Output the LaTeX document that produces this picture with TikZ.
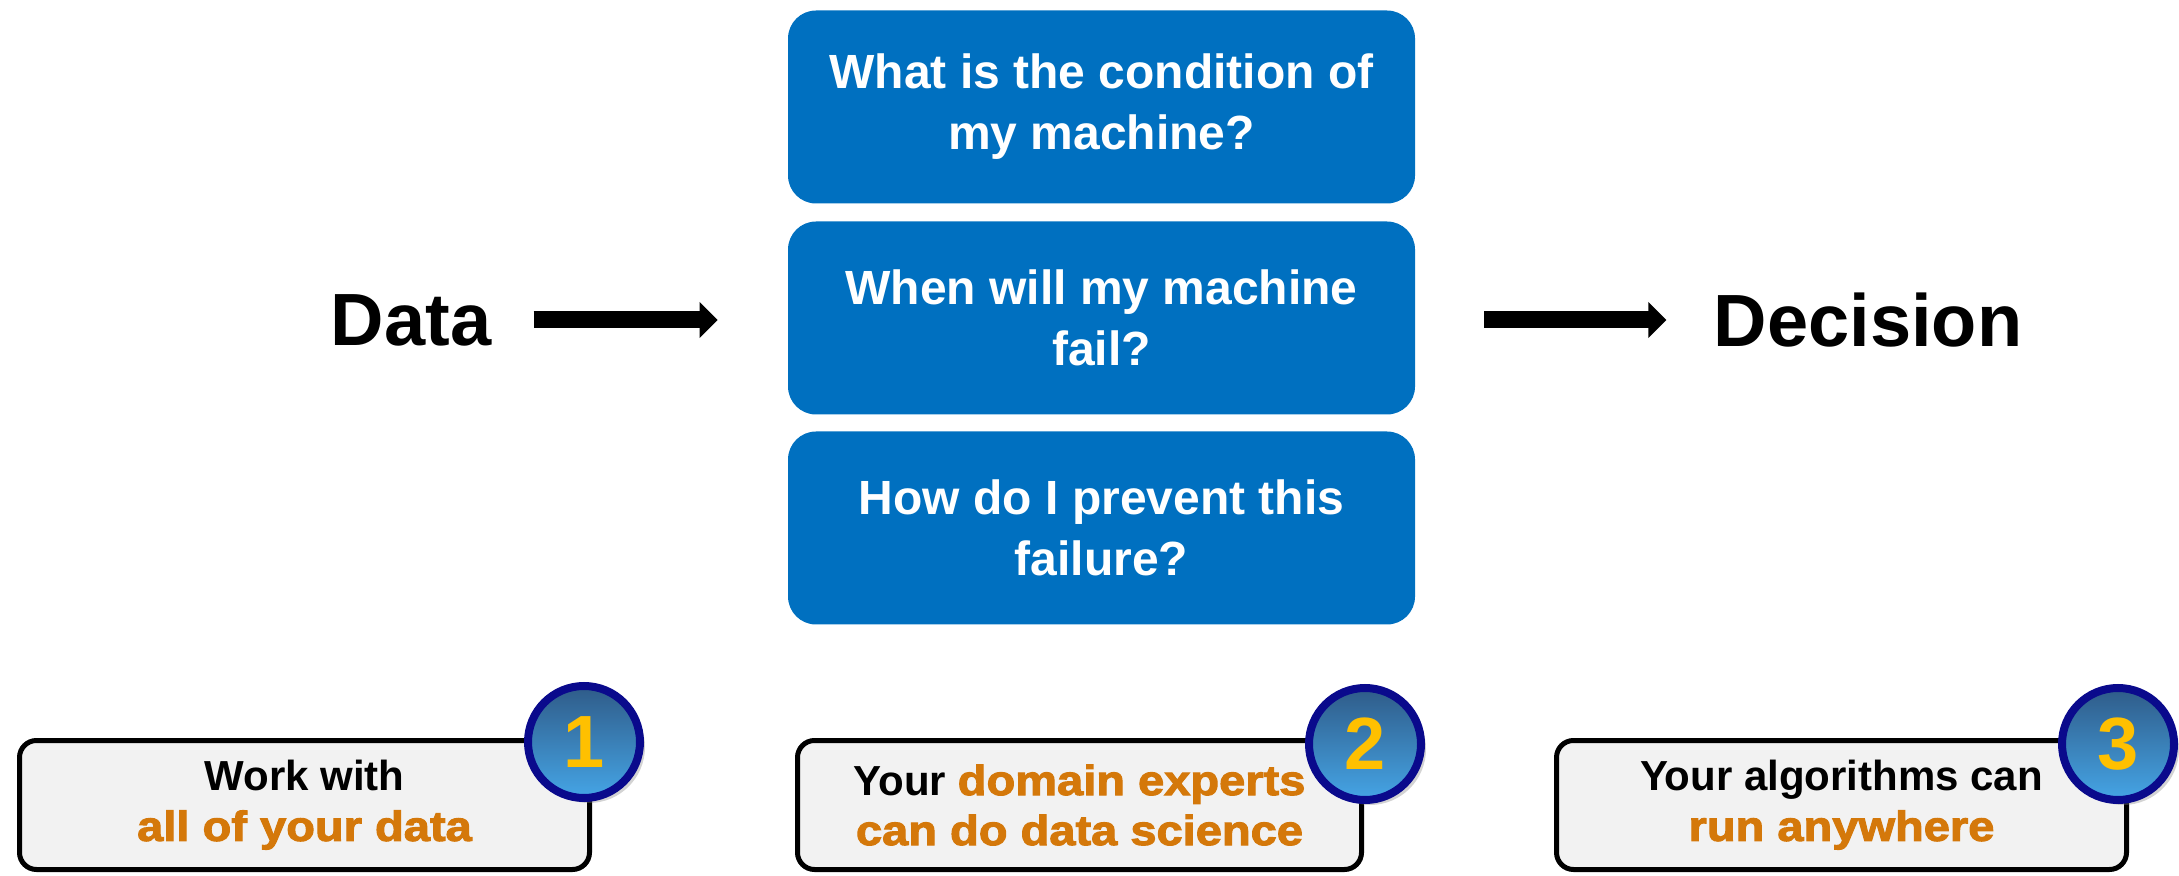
\documentclass[tikz,border=0pt]{standalone}
\usepackage{fontspec}
\setmainfont{Liberation Sans}
\newfontfamily\heavy{Liberation Sans Bold}[FakeBold=2.5,FakeStretch=1.12]
\usetikzlibrary{arrows.meta,shadows}
\definecolor{qblue}{HTML}{0070C0}
\definecolor{orangeC}{HTML}{D4780A}
\definecolor{boxgray}{HTML}{F2F2F2}
\definecolor{navyC}{HTML}{0A0A8C}
\definecolor{ctop}{HTML}{2F5B88}
\definecolor{cbot}{HTML}{45A5E6}
\definecolor{numyellow}{HTML}{FFC000}
\newcommand{\hl}[1]{{\mdseries\heavy\color{orangeC}#1}}
\begin{document}
\begin{tikzpicture}[x=0.5pt,y=-0.5pt,
  qbox/.style={fill=qblue, rounded corners=14pt, minimum width=313.5pt, minimum height=96.5pt,
    text=white, font=\bfseries\fontsize{24pt}{30.5pt}\selectfont, align=center, inner sep=0pt},
  bigword/.style={font=\bfseries\fontsize{37pt}{40pt}\selectfont, inner sep=0pt},
  feat/.style={draw=black, line width=2.5pt, fill=boxgray, rounded corners=8.5pt,
    minimum height=64.5pt, align=center, font=\bfseries\fontsize{21pt}{25pt}\selectfont, inner sep=0pt},
  badge/.style={circle, draw=navyC, line width=4pt, top color=ctop, bottom color=cbot,
    minimum size=56pt, inner sep=0pt, text=numyellow,
    font=\bfseries\fontsize{37pt}{37pt}\selectfont,
    drop shadow={opacity=0.35, shadow xshift=2.5pt, shadow yshift=-2.5pt}},
  blockarrow/.style={line width=8.5pt, -{Triangle[length=9pt,width=17.5pt]}}
]
\useasboundingbox (0,0) rectangle (2179,876);
% question boxes
\node[qbox] (q1) at (1101.5,107) {What is the condition of\\my machine?};
\node[qbox] (q2) at (1101.5,318) {When will my machine\\fail?};
\node[qbox] (q3) at (1101.5,528) {How do I prevent this\\failure?};
% words
\node[bigword] (data) at (411,320) {Data};
\node[bigword] (dec) at (1868,320) {Decision};
% arrows
\draw[blockarrow, shorten <=21pt, shorten >=35pt] (data.east) -- (data.east -| q2.west);
\draw[blockarrow, shorten <=34.5pt, shorten >=23.5pt] (q2.east |- dec.west) -- (dec.west);
% feature boxes
\node[feat, minimum width=285pt] (f1) at (304.5,805) {Work with\\\hl{all of your data}};
\node[feat, minimum width=282pt] (f2) at (1079.5,805) {Your \hl{domain experts}\\\hl{can do data science}};
\node[feat, minimum width=285pt] (f3) at (1841.5,805) {Your algorithms can\\\hl{run anywhere}};
% badges
\node[badge] (b1) at (584,742) {1};
\node[badge] (b2) at (1365,744) {2};
\node[badge] (b3) at (2118,744) {3};
\end{tikzpicture}
\end{document}
